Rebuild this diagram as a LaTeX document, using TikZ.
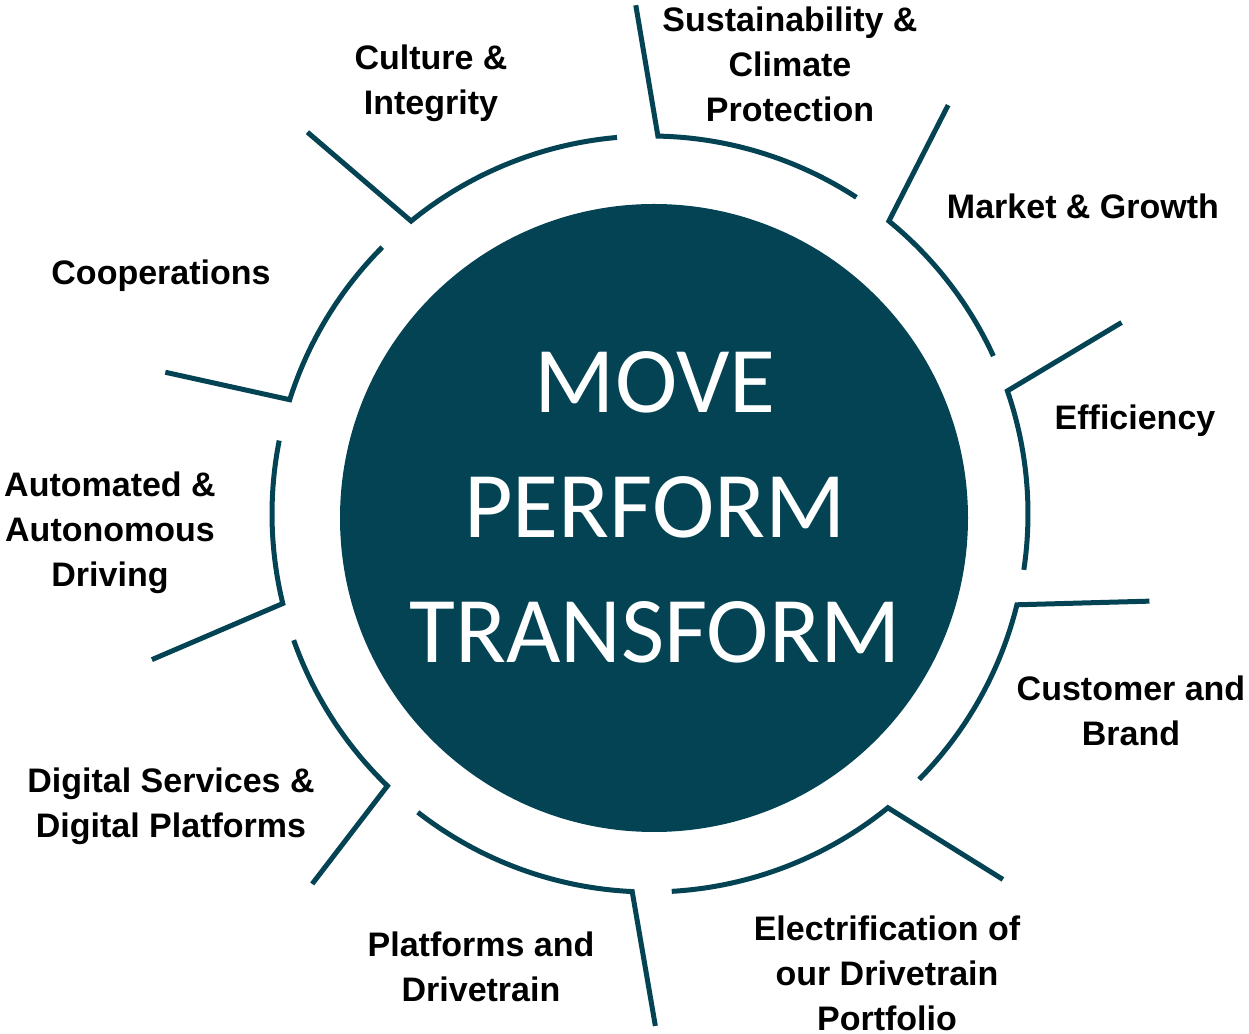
\documentclass[tikz,border=0pt]{standalone}
\usepackage{fontspec}
\setmainfont{Liberation Sans}
\newfontfamily\centrofont{Carlito}
\usetikzlibrary{calc}
\definecolor{petrolio}{HTML}{034353}

\begin{document}
\begin{tikzpicture}[x=0.5pt,y=0.5pt]
	\useasboundingbox (0,0) rectangle (1249,1034);
	\tikzset{ring/.style={draw=petrolio, line width=2.5pt},
		lbl/.style={align=center, font=\bfseries\fontsize{17}{22.5}\selectfont}}
	%Cerchio centrale
	\coordinate (c) at (650,520);
	\node [circle, fill=petrolio, minimum size=314pt, inner sep=0pt] (centro) at (654,516) {};
	\node [text=white, align=center, font=\centrofont\fontsize{47}{62.5}\selectfont] (motto) at (655,527) {MOVE\\PERFORM\\TRANSFORM};
	%Anello con raggi
	\foreach \a/\b/\s/\l in {88.8/56.9/91.6/509, 50.8/24.7/53.9/506, 19.0/-8.5/22.1/509,
		-13.9/-44.6/-9.9/507, -51.0/-86.7/-46.0/508, -92.7/-127.9/-89.4/512,
		-134.0/-160.5/-132.4/501, -166.3/-191.2/-163.7/519, 162.4/135.1/163.7/505,
		129.2/95.0/131.9/513}
		\draw [ring] ($(c)+(\s:\l)$) -- ($(c)+(\a:378)$) arc [start angle=\a, end angle=\b, radius=378];
	%Etichette
	\node [lbl] (sost) at (790,970) {Sustainability \&\\Climate\\Protection};
	\node [lbl] (mercato) at (1083,828) {Market \& Growth};
	\node [lbl] (effic) at (1135,613) {Efficiency};
	\node [lbl] (cliente) at (1131,323) {Customer and\\Brand};
	\node [lbl] (elettr) at (887,61) {Electrification of\\our Drivetrain\\Portfolio};
	\node [lbl] (piatt) at (481,67) {Platforms and\\Drivetrain};
	\node [lbl] (digit) at (171,228) {Digital Services \&\\Digital Platforms};
	\node [lbl] (guida) at (110,501) {Automated \&\\Autonomous\\Driving};
	\node [lbl] (coop) at (161,758) {Cooperations};
	\node [lbl] (cultura) at (431,951) {Culture \&\\Integrity};
\end{tikzpicture}
\end{document}
